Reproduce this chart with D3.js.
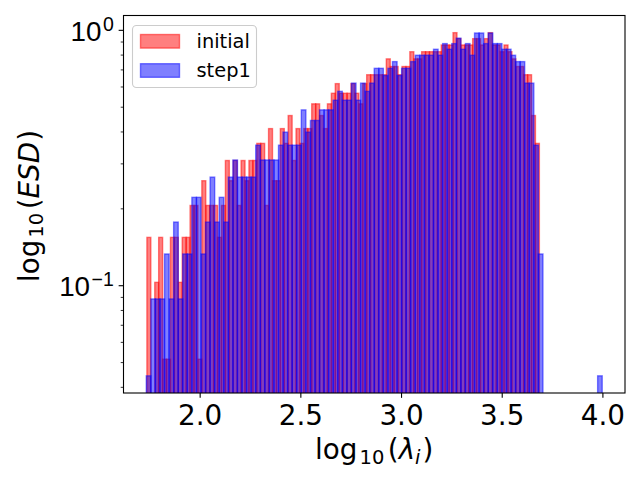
<!DOCTYPE html>
<html lang="en">
<head>
<meta charset="UTF-8">
<title>ESD histogram</title>
<script src="https://cdnjs.cloudflare.com/ajax/libs/d3/7.8.5/d3.min.js"></script>
<style>
  body { margin: 0; background: #fff; }
  svg { display: block; font-family: "DejaVu Sans", sans-serif; }
</style>
</head>
<body>
<div id="chart"></div>
<script>
// counts per bin, 100 bins per series
const seriesNames = ["initial", "step1"];
const seriesColors = ["#ff0000", "#0000ff"];
const initialRange = [1.738, 3.687];
const step1Range = [1.735, 3.999];
const initialCounts = [
  3, 0, 2, 3, 1, 1, 3, 3, 2, 3,
  3, 4, 4, 1, 5, 4, 4, 4, 3, 4,
  6, 5, 6, 4, 6, 5, 6, 6, 7, 7,
  4, 8, 5, 5, 8, 7, 9, 6, 8, 7,
  8, 8, 10, 10, 9, 8, 10, 11, 12, 11,
  11, 11, 12, 11, 10, 12, 13, 13, 13, 13,
  13, 15, 14, 14, 13, 14, 14, 16, 15, 15,
  16, 16, 16, 16, 16, 17, 17, 17, 19, 18,
  17, 17, 17, 18, 18, 17, 18, 19, 17, 17,
  16, 17, 16, 15, 14, 14, 13, 13, 9, 7
];
const step1Counts = [
  1, 2, 2, 2, 3, 2, 4, 2, 3, 3,
  5, 5, 3, 4, 6, 4, 5, 4, 6, 7,
  6, 6, 6, 6, 8, 7, 7, 7, 7, 8,
  9, 8, 8, 8, 11, 9, 10, 10, 11, 11,
  11, 12, 13, 12, 12, 14, 12, 14, 13, 14,
  16, 16, 15, 16, 17, 15, 16, 16, 17, 18,
  18, 18, 18, 19, 18, 20, 19, 20, 21, 19,
  20, 18, 22, 22, 20, 22, 20, 20, 19, 19,
  18, 17, 17, 14, 14, 8, 3, 0, 0, 0,
  0, 0, 0, 0, 0, 0, 0, 0, 0, 1
];
const nEigen = 1000; // eigenvalues per spectrum
const xTickValues = [2.0, 2.5, 3.0, 3.5, 4.0];
const yMajorTicks = [0.1, 1];
const yMajorExponents = ["\u22121", "0"];

const width = 640, height = 480;
const plot = { left: 123.5, right: 625, top: 15.5, bottom: 393 };
const fs = 27.8; // 20pt
const fsSmall = 19.5;

// density=True, like matplotlib
function toBins(counts, range) {
  const w = (range[1] - range[0]) / counts.length;
  return counts.map((c, i) => ({
    x0: range[0] + i * w,
    x1: range[0] + (i + 1) * w,
    density: c / (nEigen * w)
  })).filter(d => d.density > 0);
}

const series = [
  { name: seriesNames[0], color: seriesColors[0], bins: toBins(initialCounts, initialRange) },
  { name: seriesNames[1], color: seriesColors[1], bins: toBins(step1Counts, step1Range) }
];

// axis limits with 5% margins (log space for y)
const xlo = Math.min(initialRange[0], step1Range[0]);
const xhi = Math.max(initialRange[1], step1Range[1]);
const xm = (xhi - xlo) * 0.05;
const x = d3.scaleLinear().domain([xlo - xm, xhi + xm]).range([plot.left, plot.right]);

const allD = series.flatMap(s => s.bins.map(b => b.density));
const lmin = Math.log10(d3.min(allD)), lmax = Math.log10(d3.max(allD));
const lm = (lmax - lmin) * 0.05;
const y = d3.scaleLog().domain([10 ** (lmin - lm), 10 ** (lmax + lm)]).range([plot.bottom, plot.top]);

const svg = d3.select("#chart").append("svg")
  .attr("width", width)
  .attr("height", height);

svg.append("rect").attr("width", width).attr("height", height).attr("fill", "#fff");

svg.append("clipPath").attr("id", "clip")
  .append("rect")
  .attr("x", plot.left).attr("y", plot.top)
  .attr("width", plot.right - plot.left).attr("height", plot.bottom - plot.top);

const barsG = svg.append("g").attr("clip-path", "url(#clip)");
series.forEach(s => {
  barsG.append("g")
    .selectAll("rect")
    .data(s.bins)
    .enter()
    .append("rect")
    .attr("x", d => x(d.x0))
    .attr("width", d => x(d.x1) - x(d.x0))
    .attr("y", d => y(d.density))
    .attr("height", d => plot.bottom + 2 - y(d.density))
    .attr("fill", s.color)
    .attr("fill-opacity", 0.5)
    .attr("stroke", s.color)
    .attr("stroke-opacity", 0.5)
    .attr("stroke-width", 1.39);
});

// x axis
svg.append("g")
  .attr("transform", `translate(0,${plot.bottom})`)
  .call(d3.axisBottom(x).tickValues(xTickValues).tickFormat(d3.format(".1f"))
    .tickSize(4.86).tickPadding(4.86).tickSizeOuter(0))
  .call(g => g.select(".domain").remove())
  .call(g => g.selectAll(".tick line").attr("stroke-width", 1.1))
  .call(g => g.selectAll(".tick text")
    .attr("font-size", fs).attr("font-family", "DejaVu Sans").attr("fill", "#000").attr("dy", "0.8em"));

// y axis, minor ticks
const isMajor = t => Math.abs(Math.log10(t) - Math.round(Math.log10(t))) < 1e-9;
svg.append("g")
  .attr("transform", `translate(${plot.left},0)`)
  .call(d3.axisLeft(y).tickValues(y.ticks().filter(t => !isMajor(t))).tickFormat("")
    .tickSize(2.78).tickSizeOuter(0))
  .call(g => g.select(".domain").remove())
  .call(g => g.selectAll(".tick line").attr("stroke-width", 0.8));

// y axis, major ticks with 10^n labels
const yMajor = svg.append("g")
  .attr("transform", `translate(${plot.left},0)`)
  .call(d3.axisLeft(y).tickValues(yMajorTicks).tickFormat("").tickSize(4.86).tickSizeOuter(0))
  .call(g => g.select(".domain").remove())
  .call(g => g.selectAll(".tick line").attr("stroke-width", 1.1));

yMajor.selectAll(".tick").each(function(d, i) {
  const t = d3.select(this).append("text")
    .attr("x", -9.7)
    .attr("y", 10.6)
    .attr("text-anchor", "end")
    .attr("font-size", fs)
    .attr("fill", "#000");
  t.append("tspan").text("10");
  t.append("tspan").attr("font-size", fsSmall).attr("dx", 1.5).attr("dy", -10).text(yMajorExponents[i]);
});

// frame
svg.append("rect")
  .attr("x", plot.left).attr("y", plot.top)
  .attr("width", plot.right - plot.left).attr("height", plot.bottom - plot.top)
  .attr("fill", "none").attr("stroke", "#000").attr("stroke-width", 1.1);

// axis labels (mathtext style)
const xl = svg.append("text")
  .attr("x", (plot.left + plot.right) / 2)
  .attr("y", 459)
  .attr("text-anchor", "middle")
  .attr("font-size", fs);
xl.append("tspan").text("log");
xl.append("tspan").attr("font-size", fsSmall).attr("dx", 2).attr("dy", 4.5).text("10");
xl.append("tspan").attr("dx", 3.5).attr("dy", -4.5).text("(");
xl.append("tspan").attr("font-style", "italic").text("\u03bb");
xl.append("tspan").attr("font-style", "italic").attr("font-size", fsSmall).attr("dy", 4.5).text("i");
xl.append("tspan").attr("dx", 2).attr("dy", -4.5).text(")");

const yl = svg.append("text")
  .attr("transform", "translate(38.5,206) rotate(-90)")
  .attr("text-anchor", "middle")
  .attr("font-size", fs);
yl.append("tspan").text("log");
yl.append("tspan").attr("font-size", fsSmall).attr("dx", 2).attr("dy", 4.5).text("10");
yl.append("tspan").attr("dx", 3.5).attr("dy", -4.5).text("(");
yl.append("tspan").attr("font-style", "italic").text("ESD");
yl.append("tspan").attr("dx", 1).text(")");

// legend
const lg = svg.append("g");
lg.append("rect")
  .attr("x", 132.5).attr("y", 25.5)
  .attr("width", 124).attr("height", 62)
  .attr("rx", 4)
  .attr("fill", "#fff").attr("fill-opacity", 0.8)
  .attr("stroke", "#cccccc").attr("stroke-width", 1.1);

series.forEach((s, i) => {
  const top = 34.5 + i * 29.2;
  lg.append("rect")
    .attr("x", 140.5).attr("y", top)
    .attr("width", 39).attr("height", 13.6)
    .attr("fill", s.color).attr("fill-opacity", 0.5)
    .attr("stroke", s.color).attr("stroke-opacity", 0.5).attr("stroke-width", 1.39);
  lg.append("text")
    .attr("x", 196.5).attr("y", top + 13.5)
    .attr("font-size", 19.4)
    .attr("fill", "#000")
    .text(s.name);
});
</script>
</body>
</html>
